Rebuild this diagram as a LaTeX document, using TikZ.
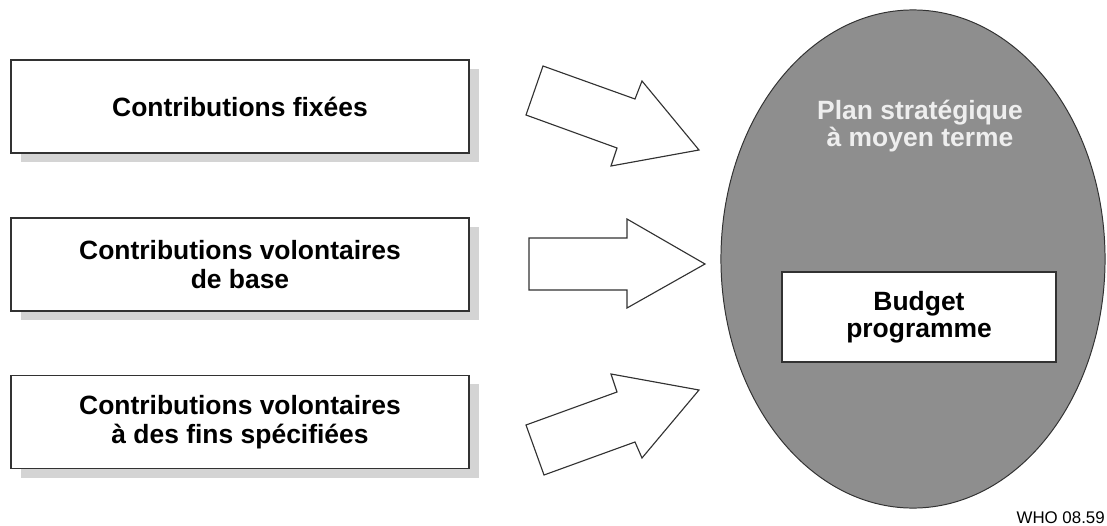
\documentclass[tikz,border=0pt]{standalone}
\usepackage{fontspec}
\setmainfont{Liberation Sans}
\usetikzlibrary{shapes.geometric,shadows}

\definecolor{ovalgray}{RGB}{142,142,142}
\definecolor{shadegray}{RGB}{212,212,212}
\definecolor{edgegray}{RGB}{50,50,50}
\definecolor{paletext}{RGB}{238,238,238}

\tikzset{
	bigtext/.style={font=\fontsize{18.8}{21}\selectfont\bfseries, align=center},
	sourcebox/.style={draw=edgegray, line width=1pt, fill=white, bigtext,
		minimum width=11.45cm, minimum height=2.325cm, inner sep=0pt,
		drop shadow={shadow xshift=0.25cm, shadow yshift=-0.225cm, fill=shadegray, opacity=1}},
	blockarrow/.style={draw=edgegray, line width=0.8pt, fill=white, line join=miter},
}

\begin{document}
\begin{tikzpicture}[x=0.025cm, y=-0.025cm]
			\useasboundingbox (0, 0) rectangle (1107, 526);
			
			% sources of funds
			\node[sourcebox] (fixed) at (240, 106.5) {Contributions fixées};
			\node[sourcebox] (core) at (240, 264.5) {Contributions volontaires\\de base};
			\node[sourcebox] (specified) at (240, 422) {Contributions volontaires\\à des fins spécifiées};
			
			% the plan
			\node[ellipse, draw=edgegray, line width=0.7pt, fill=ovalgray,
				minimum width=9.6cm, minimum height=12.45cm, inner sep=0pt] (plan) at (913, 259) {};
			\node[bigtext, text=paletext, font=\fontsize{18.8}{19.5}\selectfont\bfseries] (plantitle) at (920, 126) {Plan stratégique\\à moyen terme};
			\node[draw=edgegray, line width=0.9pt, fill=white, bigtext,
				font=\fontsize{18.8}{19}\selectfont\bfseries,
				minimum width=6.85cm, minimum height=2.25cm, inner sep=0pt] (budget) at (919, 317) {Budget\\programme};
			
			% block arrows
			\draw[blockarrow] (543, 66) -- (635, 99) -- (642, 81) -- (699, 150)
				-- (611, 166) -- (617, 148) -- (526, 115) -- cycle;
			\draw[blockarrow] (529, 238) -- (627, 238) -- (627, 219) -- (705, 264)
				-- (627, 308) -- (627, 290) -- (529, 290) -- cycle;
			\draw[blockarrow] (544, 475) -- (635, 442) -- (642, 458) -- (699, 390)
				-- (611, 374) -- (617, 392) -- (526, 425) -- cycle;
			
			\node[anchor=base east, inner sep=0pt, font=\fontsize{12}{14}\selectfont] (code) at (1105, 523) {WHO 08.59};
		\end{tikzpicture}
\end{document}
